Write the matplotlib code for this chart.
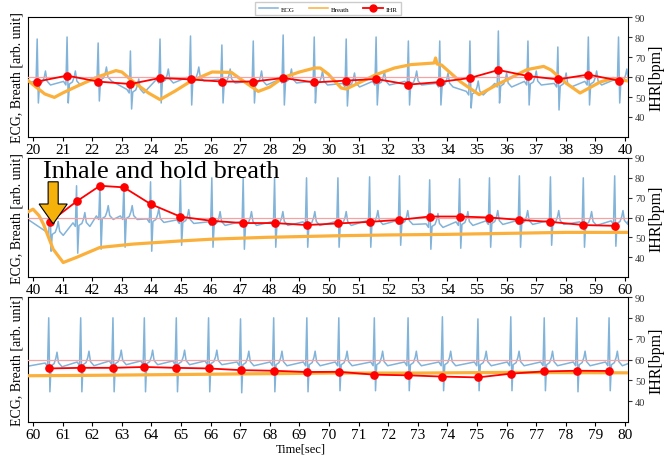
"""
ECG, respiracion e IHR en tres tramos de 20 s (20-40, 40-60, 60-80 s).
Valores leidos a ojo de la figura original.
"""
import matplotlib
matplotlib.use("Agg")
import matplotlib.pyplot as plt
from matplotlib.patches import FancyArrow
from matplotlib.lines import Line2D

plt.rcParams["font.family"] = ["Liberation Serif", "DejaVu Serif"]

# ─── Datos ───────────────────────────────────────────────────────────────────
PANEL_START = [20, 40, 60]

# latidos (tiempo del pico R = tiempo del punto IHR)
beat_t1 = [20.14, 21.15, 22.20, 23.29, 24.29, 25.32, 26.38, 27.44, 28.45, 29.50,
           30.58, 31.59, 32.68, 33.74, 34.76, 35.72, 36.72, 37.73, 38.76, 39.78]
ihr1 = [57.7, 60.7, 57.7, 56.5, 59.5, 58.8, 57.7, 57.7, 59.5, 57.3,
        58.2, 59.0, 56.2, 57.5, 59.5, 63.5, 60.5, 58.8, 61.2, 58.2]
r_peak1 = [79, 80, 77, 73, 79, 80.5, 76, 78, 81, 80, 79, 80, 78, 78, 78, 83, 78, 75, 80, 80]
s_dip1 = [47, 47, 48, 44, 47, 46, 47, 47, 46, 47, 45.5, 46, 46, 46, 44.5, 47, 46, 43.5, 46, 47]
ecg_base1 = [57, 57, 59, 53, 58, 59, 58, 57, 58, 57, 56, 57, 57, 56, 52, 56, 57, 56, 57, 58]

beat_t2 = [40.57, 41.47, 42.26, 43.07, 43.97, 44.98, 46.04, 47.10, 48.16, 49.24,
           50.30, 51.37, 52.38, 53.40, 54.41, 55.42, 56.43, 57.48, 58.59, 59.65]
ihr2 = [57.8, 68.1, 76.0, 75.2, 66.8, 60.4, 58.3, 57.2, 57.2, 56.2,
        57.0, 57.8, 58.8, 60.5, 60.5, 60.0, 58.8, 57.8, 56.2, 55.8]
r_peak2 = [74, 76, 77, 77, 78, 79, 80, 80, 80, 80, 80, 80.5, 81, 79, 79.5, 80, 81, 80.5, 80, 81]
s_dip2 = [43, 42, 44, 45, 43, 46, 45, 44, 45, 45, 45, 45, 46, 44, 44.5, 45, 45, 46, 45, 45.5]
ecg_base2 = [52, 56.5, 60, 60, 58.5, 58, 57, 57, 57, 57,
             57, 57.5, 57.5, 56, 57, 57.5, 57.5, 57.5, 57, 57.5]

beat_t3 = [60.53, 61.61, 62.70, 63.76, 64.84, 65.93, 67.01, 68.13, 69.25,
           70.33, 71.53, 72.67, 73.83, 75.03, 76.14, 77.27, 78.37, 79.46]
ihr3 = [55.7, 56.0, 56.0, 56.4, 56.0, 55.7, 54.9, 54.6, 54.0,
        54.1, 52.7, 52.4, 51.8, 51.4, 53.2, 54.3, 54.6, 54.5]
r_peak3 = [80, 80, 80, 80, 80, 80, 79.5, 80, 80, 80, 80, 80, 80.5, 79.5, 80.5, 80, 80, 80]
s_dip3 = [44.5, 44.5, 44.5, 44.5, 44.5, 44.5, 44, 44.5, 44.5, 45, 45, 45, 45, 45, 45, 45, 44.5, 45]
ecg_base3 = [57.5, 58, 58.5, 58.5, 58.5, 58.5, 58, 58, 58, 58, 58, 58, 58, 58, 58, 58, 58, 58]

# ECG en los bordes de cada tramo
ecg_left = [57.0, 59.0, 56.8]
ecg_right = [60.0, 58.0, 58.0]

# forma de un latido: desfase respecto al pico R (s) y desvio sobre la linea base
# (None = valor propio del latido: pico R y valle S)
BEAT_DT = [-0.12, -0.04, 0.0, 0.04, 0.08, 0.18, 0.24, 0.28, 0.33, 0.45]
BEAT_DY = [0.8, -1.0, None, None, -0.5, 0.5, 3.0, 6.0, 1.0, -1.0]

# respiracion (tiempo, valor)
breath_t1 = [19.85, 20.1, 20.4, 20.72, 21.0, 21.5, 22.23, 22.8, 23.0, 23.4, 23.9, 24.29,
             24.8, 25.32, 26.05, 26.7, 27.2, 27.61, 28.0, 28.45, 29.0, 29.52, 29.7, 29.97,
             30.41, 30.58, 31.0, 31.59, 32.21, 32.77, 33.55, 33.6, 33.65, 33.8, 34.45,
             35.07, 35.68, 36.69, 37.25, 37.5, 38.0, 38.48, 39.16, 39.6, 40.1]
breath_v1 = [58, 55, 51.5, 49.8, 52, 55.5, 60.3, 63.2, 62.5, 57.5, 52, 48.7,
             53, 57.8, 62.5, 62.3, 57, 52.8, 55, 59.7, 62.5, 64.5, 64.5, 61.5,
             54.5, 54, 57, 61.2, 64.5, 66.2, 67, 69.5, 66.5, 66, 57.5,
             51.2, 56.2, 63.7, 65.3, 63.5, 57, 52, 57.5, 59.3, 58]
breath_t2 = [39.85, 40.0, 40.2, 40.35, 40.68, 41.02, 41.47, 42.26, 43.38, 45.0,
             46.08, 47.87, 50.28, 52.0, 54.0, 56.0, 58.0, 60.1]
breath_v2 = [63, 64.2, 61, 56.7, 44, 37.3, 39.9, 44.9, 46.6, 48.2,
             49.1, 50, 50.8, 51.2, 51.5, 52, 52.5, 52.5]
breath_t3 = [59.85, 62, 65, 68, 70, 73, 76, 80.1]
breath_v3 = [52.2, 52.4, 52.8, 53.2, 53.5, 53.5, 53.8, 53.6]

IHR_REF = 60

beats = [beat_t1, beat_t2, beat_t3]
ihrs = [ihr1, ihr2, ihr3]
r_peaks = [r_peak1, r_peak2, r_peak3]
s_dips = [s_dip1, s_dip2, s_dip3]
ecg_bases = [ecg_base1, ecg_base2, ecg_base3]
breaths_t = [breath_t1, breath_t2, breath_t3]
breaths_v = [breath_v1, breath_v2, breath_v3]

# ─── Estilo ──────────────────────────────────────────────────────────────────
ECG_COLOR = "#82b3d9"
BREATH_COLOR = "#fbb03b"
IHR_COLOR = "#ff0000"
REF_COLOR = "#f3a3a3"
ARROW_COLOR = "#f5b20a"

W, H = 665, 456
# (izq, arriba, der, abajo) en pixeles
boxes_px = [(28, 18, 628, 138), (28, 159, 628, 278), (28, 298, 628, 423)]


def build_ecg(x0, times, peaks, dips, bases, left, right):
    xs, ys = [x0 - 0.17], [left]
    for t, rp, sd, b in zip(times, peaks, dips, bases):
        for dt, dy in zip(BEAT_DT, BEAT_DY):
            xs.append(t + dt)
            if dy is None:
                ys.append(rp if dt == 0.0 else sd)
            else:
                ys.append(b + dy)
    xs.append(x0 + 20.1)
    ys.append(right)
    return xs, ys


fig = plt.figure(figsize=(W / 100, H / 100), dpi=100)

axes = []
for k, (l, t, r, b) in enumerate(boxes_px):
    ax = fig.add_axes([l / W, 1 - b / H, (r - l) / W, (b - t) / H])
    axes.append(ax)
    x0 = PANEL_START[k]

    ex, ey = build_ecg(x0, beats[k], r_peaks[k], s_dips[k], ecg_bases[k],
                       ecg_left[k], ecg_right[k])
    ax.plot(ex, ey, color=ECG_COLOR, lw=1.1, zorder=2)
    ax.plot(breaths_t[k], breaths_v[k], color=BREATH_COLOR, lw=2.3, zorder=3,
            solid_joinstyle="round")
    ax.axhline(IHR_REF, color=REF_COLOR, lw=0.9, zorder=3)
    ax.plot(beats[k], ihrs[k], color=IHR_COLOR, lw=1.3, marker="o", ms=5.2, zorder=4)

    ax.set_xlim(x0 - 0.17, x0 + 20.1)
    ax.set_ylim(30, 90)
    ax.set_xticks(range(x0, x0 + 21))
    ax.set_yticks([40, 50, 60, 70, 80, 90])
    ax.yaxis.tick_right()
    ax.tick_params(axis="x", labelsize=11, length=3, pad=1)
    ax.tick_params(axis="y", labelsize=7.5, length=3, pad=2, colors="#333333")

    ax.text(-0.018, 0.5, "ECG, Breath [arb. unit]", transform=ax.transAxes,
            rotation=90, ha="center", va="center", fontsize=10)
    ax.text(1.047, 0.5, "IHR[bpm]", transform=ax.transAxes,
            rotation=90, ha="center", va="center", fontsize=11.5)

# Anotacion de la apnea
ax2 = axes[1]
ax2.text(40.34, 80.4, "Inhale and hold breath", fontsize=19, va="baseline", ha="left",
         zorder=6)
ax2.add_patch(FancyArrow(40.68, 78.0, 0, -21.2, width=0.34, head_width=0.95,
                         head_length=10.0, length_includes_head=True,
                         facecolor=ARROW_COLOR, edgecolor="black", lw=0.8, zorder=6))

fig.text(301 / W, 1 - 450 / H, "Time[sec]", ha="center", va="center", fontsize=9)

handles = [
    Line2D([], [], color=ECG_COLOR, lw=1.1),
    Line2D([], [], color=BREATH_COLOR, lw=1.1),
    Line2D([], [], color=IHR_COLOR, lw=1.3, marker="o", ms=5),
]
fig.legend(handles, ["ECG", "Breath", "IHR"], loc="upper center",
           bbox_to_anchor=(328 / W, 1.0), ncol=3, fontsize=5, handlelength=2.8,
           handletextpad=0.4, columnspacing=2.0, borderpad=0.5, fancybox=False,
           edgecolor="#cccccc", framealpha=1)

fig.savefig("out.png", dpi=100)
